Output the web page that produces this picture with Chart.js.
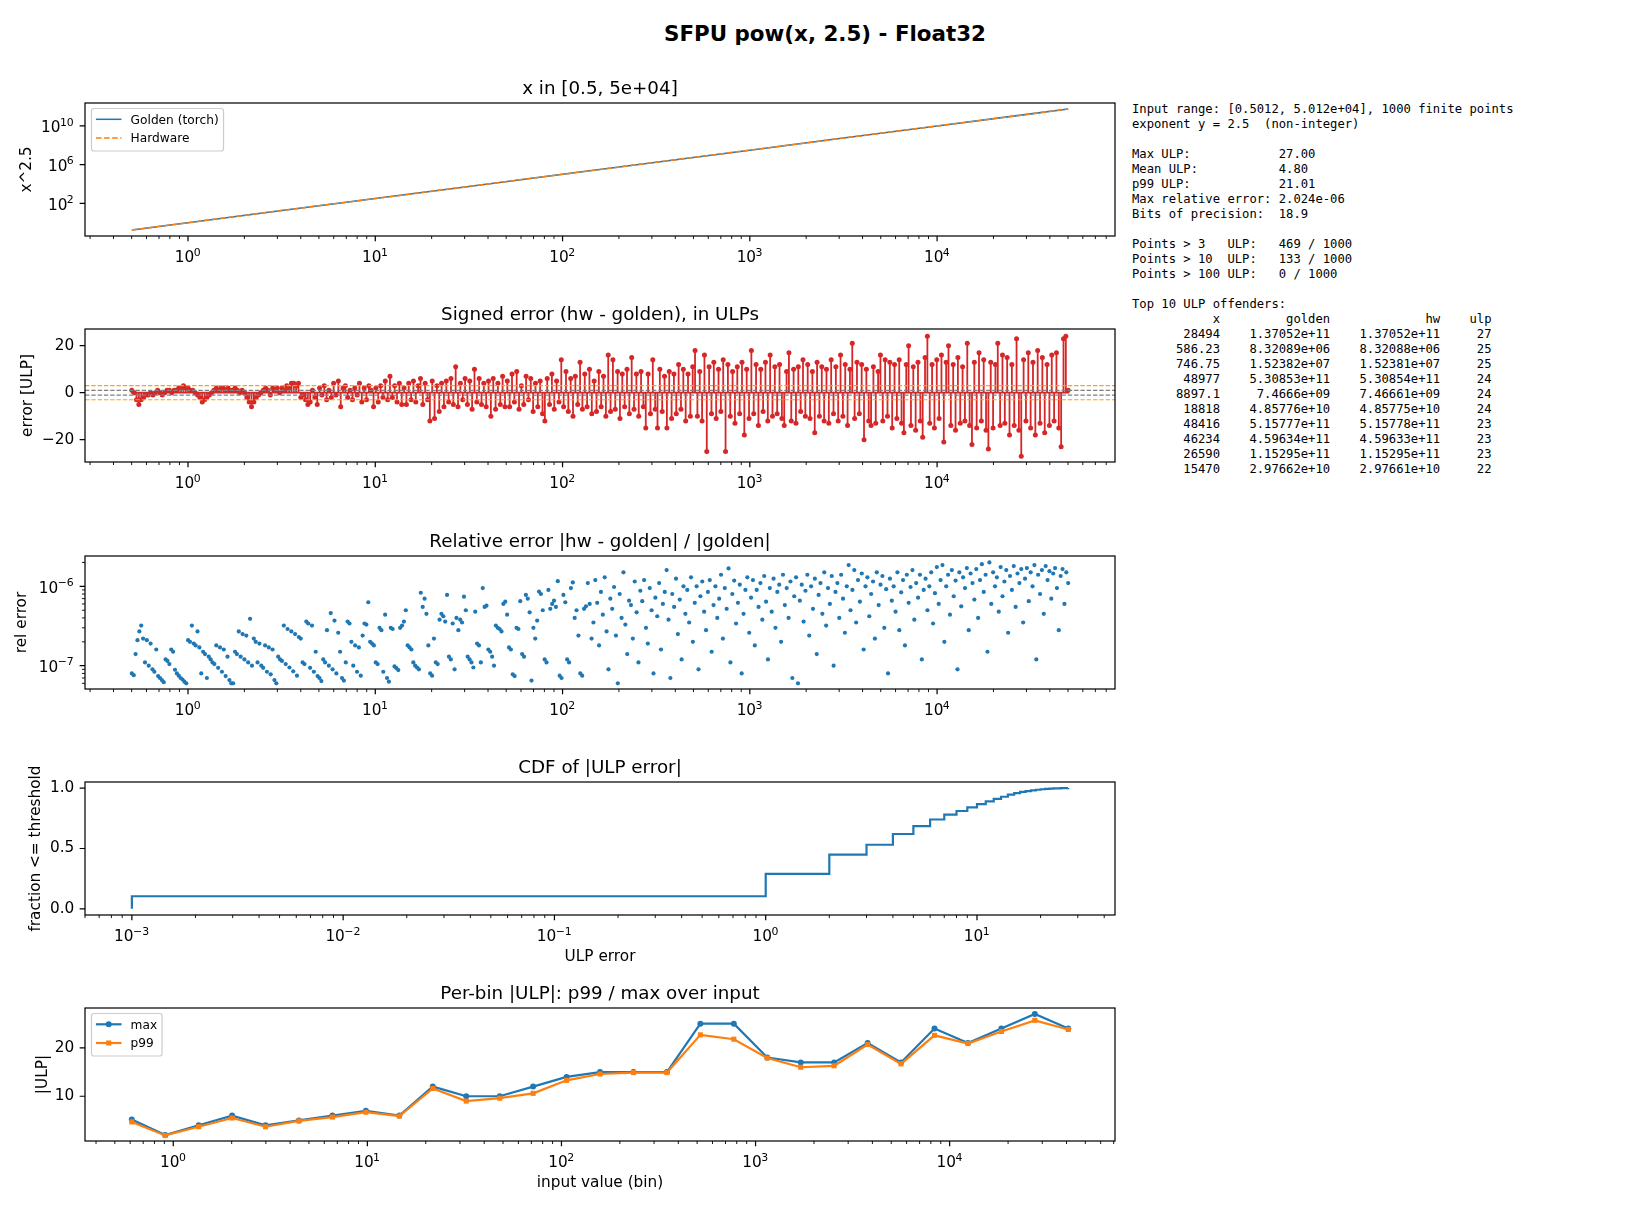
<!DOCTYPE html>
<html>
<head>
<meta charset="utf-8">
<title>SFPU pow(x, 2.5) - Float32</title>
<script src="https://cdn.jsdelivr.net/npm/chart.js"></script>
<style>
  body { margin: 0; background: #fff; width: 1650px; height: 1210px; position: relative; overflow: hidden; }
  canvas { position: absolute; left: 0; }
  #suptitle { position: absolute; left: 0; width: 1650px; top: 22.7px; text-align: center; font: bold 21.4px/1 'DejaVu Sans', sans-serif; color: #000; }
  #stats { position: absolute; left: 1132px; top: 101.75px; margin: 0; font: 12.2px/15px 'DejaVu Sans Mono', monospace; color: #000; white-space: pre; }
</style>
</head>
<body>
<div id="suptitle">SFPU pow(x, 2.5) - Float32</div>
<pre id="stats">Input range: [0.5012, 5.012e+04], 1000 finite points
exponent y = 2.5  (non-integer)

Max ULP:            27.00
Mean ULP:           4.80
p99 ULP:            21.01
Max relative error: 2.024e-06
Bits of precision:  18.9

Points > 3   ULP:   469 / 1000
Points > 10  ULP:   133 / 1000
Points > 100 ULP:   0 / 1000

Top 10 ULP offenders:
           x         golden             hw    ulp
       28494    1.37052e+11    1.37052e+11     27
      586.23    8.32089e+06    8.32088e+06     25
      746.75    1.52382e+07    1.52381e+07     25
       48977    5.30853e+11    5.30854e+11     24
      8897.1     7.4666e+09    7.46661e+09     24
       18818    4.85776e+10    4.85775e+10     24
       48416    5.15777e+11    5.15778e+11     23
       46234    4.59634e+11    4.59633e+11     23
       26590    1.15295e+11    1.15295e+11     23
       15470    2.97662e+10    2.97661e+10     22</pre>
<canvas id="c1" width="1130" height="240" style="top:58px"></canvas>
<canvas id="c2" width="1130" height="240" style="top:284px"></canvas>
<canvas id="c3" width="1130" height="240" style="top:511px"></canvas>
<canvas id="c4" width="1130" height="240" style="top:737px"></canvas>
<canvas id="c5" width="1130" height="240" style="top:963px"></canvas>
<script>
// input sweep, from the stats box
const X_LO = 0.5012, X_HI = 50120;

// panel 1: x^2.5 (golden and hardware overlap at this scale)
const powX      = [0.5012, 1, 3.162, 10, 31.62, 100, 316.2, 1000, 3162, 10000, 31620, 50120];
const powGolden = [0.1778, 1, 17.78, 316.2, 5623, 1e5, 1.778e6, 3.162e7, 5.623e8, 1e10, 1.778e11, 5.624e11];
const powHw     = [0.1778, 1, 17.78, 316.2, 5623, 1e5, 1.778e6, 3.162e7, 5.623e8, 1e10, 1.778e11, 5.624e11];

// panel 2: signed error (hw - golden) in ULPs, 400 samples over the sweep
const signedErr = [
  1,0,-3,-5,-3,-2,-1,-1,0,-1,0,1,0,-1,0,1,1,0,1,1,2,2,3,2,2,1,1,0,-1,-2,-4,-3,-2,-1,
  0,1,2,1,2,2,1,2,1,1,2,1,0,1,0,-2,-4,-6,-4,-2,-1,0,1,2,1,-1,2,1,2,0,2,1,3,2,4,4,
  3,4,-2,-1,-3,-5,-4,1,-2,-5,
  2,-1,3,-3,1,-2,4,-1, 5,-6,2,3,-2,1,-3,2, -1,4,-4,2,-3,3,1,-6, 2,-4,3,-2,5,-3,7,-2,
  3,-4,4,-5,2,-5,4,-3, 5,-4,3,6,-5,4,-3,-12, 5,-11,3,-8,4,-6,5,-4, 6,-5,11,-6,4,-3,6,-5,
  5,-7,10,-4,6,-5,4,-6, 5,-10,6,-7,4,-5,7,-6,
  5,-6,8,-4,9,-7,3,-5, 7,-3,6,-8,4,-6,5,-9, -12,6,-5,8,-7,5,-4,14, -6,9,-8,6,-10,7,-5,13,
  -7,8,-6,10,-9,5,-8,9, -6,7,-10,16,-8,14,-7,9, -11,8,-6,10,-9,15,-7,8, -10,9,-6,-15,8,-9,14,-7,
  -15,10,-8,7,-15,9,-11,8, -9,12,-7,10,-12,8,-10,11,
  18,-10,9,-12,16,-25,11,-9, 13,-11,10,-8,14,-25,12,-10, 9,-13,11,-9,13,-18,10,-11,
  18,-9,12,-14,10,-8,13,-12, 16,-10,11,-9,12,-11,-14,9, 17,-12,10,-13,11,-8,14,-10,
  12,-11,9,-17,13,-10,11,-12, 10,-13,14,-9,11,-12,16,-10, 12,-14,10,21,-11,13,-9,12,
  -20,10,-12,-14,11,-13,9,16,
  -12,14,-10,13,-15,12,-11,14, -13,-17,12,20,-14,11,-16,13, -12,-19,15,24,-13,12,-15,14,
  -11,16,-21,13,20,-14,12,-16, 15,-13,11,-12,21,-14,-22,13, -15,17,-12,14,-16,-24,13,-15,
  12,21,-14,16,-13,15,-18,12, -14,23,-16,-27,14,-12,17,-15, 13,-18,18,-13,15,-17,12,-14,
  16,-12,17,-15,-23,23,24,1
];

// panel 3: relative error, 500 samples over the sweep, in units of 1e-8
const relErrE8 = [
  8,7.6,14,21,27,32,
  22,11,21,10,19,9,8.4,16,7.4,7,6.6,6.2,
  12,11.5,10.5,16,15,8.9,8,7.5,7,6.7,6.3,6,
  21,20,32,19,18,27,17,8,15,14,7,13,
  12,11,10.5,18,9.4,17,8.4,16,7.4,13,6.6,6,
  6,15,14,27,13,25,12,24,11,39,10,22,
  20,11,19,10,9.4,18,8.4,17,7.8,16,6.6,6,
  13,12,11.5,32,10.5,29,9.5,27,8.5,25,7.5,23,
  22,11,10.5,36,34,9.4,32,8.4,15,7.4,7,6.4,
  12,11,28,10,46,9,37,8,26,15,7,6.5,
  11,36,34,20,10,18,8.4,17,7.5,24,34,33,
  63,20,19,18,11,10.5,30,28,8.4,44,7,6.3,
  30,29,9.8,9.3,8.8,30,32,36,50,18,17,16,
  11,10,9.5,9,83,55,70,45,18,8,7.5,22,
  11,10.5,38,45,42,36,78,13,12,34,9,40,
  28,38,35,74,50,13,12,11,9.5,48,19,18,
  11,95,55,57,16,15,13,10,32,30,29,27,
  60,64,44,17,16,7.8,7.4,30,29,65,14,13,
  78,70,47,6.5,30,22,37,86,80,50,12,11,
  90,52,60,66,55,116,7.5,7,78,63,12,11,
  95,112,40,50,24,8,7.5,52,56,110,60,22,
  35,120,62,18,85,44,130,27,9,70, 52,98,24,6,80,40,150,33,14,66,
  58,22,115,47,11,88,65,120,30,19, 95,50,8,72,42,110,16,60,85,160,
  38,7,80,55,125,25,68,12,100,45, 90,35,130,20,62,100,9,75,115,48,
  28,85,120,15,58,100,40,70,140,22, 95,52,168,11,80,118,34,62,105,8,
  45,90,130,26,72,120,18,90,55,110, 38,135,64,12,95,48,125,30,85,105,
  20,140,58,95,40,115,7,75,130,6, 66,105,36,88,140,24,100,52,125,14,
  78,110,45,150,32,95,60,135,10,85, 110,40,140,70,26,100,185,50,90,160,
  35,120,64,145,16,100,130,42,80,115, 22,150,58,105,135,30,92,8,125,66,
  100,48,150,28,84,120,18,140,62,98, 160,38,110,72,140,12,90,125,50,100,
  150,34,82,175,60,120,185,20,100,140, 44,160,75,118,9,150,56,130,95,170,
  28,145,110,68,165,40,120,190,85,140, 15,200,60,150,100,130,48,175,75,115,
  160,26,135,90,180,55,145,110,165,35, 125,170,65,150,100,185,12,140,80,160,
  45,180,120,155,70,145,170,95,28,135, 165,60,150,110
];

// panel 4: CDF of |ULP error| (zero errors shown at 1e-3)
const cdfThresh = [0.001, 0.001, 1, 2, 3, 4, 5, 6, 7, 8, 9, 10, 11, 12, 13, 14, 15, 16, 17, 18, 19, 20, 21, 22, 23, 24, 25, 27];
const cdfFrac   = [0.001, 0.105, 0.29, 0.45, 0.531, 0.62, 0.685, 0.74, 0.78, 0.81, 0.84, 0.867, 0.89, 0.91, 0.928, 0.945,
                   0.958, 0.968, 0.975, 0.981, 0.986, 0.99, 0.993, 0.995, 0.997, 0.998, 0.999, 1.0];

// panel 5: per-bin max / p99 of |ULP|
const binCenters = [0.6113, 0.909, 1.352, 2.01, 2.989, 4.445, 6.609, 9.829, 14.62, 21.73, 32.32, 48.06, 71.46, 106.3,
                    158, 235, 349.4, 519.6, 772.7, 1149, 1709, 2541, 3778, 5618, 8354, 12423, 18473, 27470, 40848];
const binMax = [5.2, 2, 4, 6, 4, 5, 6, 7, 6, 12, 10, 10, 12, 14, 15, 15, 15, 25, 25, 18, 17, 17, 21, 17, 24, 21, 24, 27, 24];
const binP99 = [4.7, 1.9, 3.7, 5.5, 3.7, 4.9, 5.7, 6.7, 5.9, 11.6, 9.0, 9.6, 10.6, 13.3, 14.6, 14.9, 14.9, 22.7, 21.8,
                17.9, 16.0, 16.3, 20.7, 16.7, 22.6, 20.9, 23.4, 25.7, 23.8];

// ticks (log axes: value + exponent shown as 10^exp)
const decTicks = [1, 10, 100, 1000, 10000];
const decExps  = ['0', '1', '2', '3', '4'];
const cdfTicks = [0.001, 0.01, 0.1, 1, 10];
const cdfExps  = ['−3', '−2', '−1', '0', '1'];
const powTicks = [1e2, 1e6, 1e10];
const powExps  = ['2', '6', '10'];
const relTicks = [1e-7, 1e-6];
const relExps  = ['−7', '−6'];

const C0 = '#1f77b4', C1 = '#ff7f0e', C3 = '#d62728';
const SWEEP_AXIS = [0.2818, 89125];
const FONT = "'DejaVu Sans'";

Chart.defaults.font.family = FONT + ", sans-serif";
Chart.defaults.color = '#000';

const pairs = (xs, ys) => xs.map((x, i) => ({x, y: ys[i]}));
const sweepX = n => Array.from({length: n}, (_, i) => X_LO * Math.pow(X_HI / X_LO, i / (n - 1)));

function minorLog(lo, hi) {
  const out = [];
  for (let e = Math.floor(Math.log10(lo)); e <= Math.ceil(Math.log10(hi)); e++) {
    for (let d = 2; d <= 9; d++) {
      const v = d * Math.pow(10, e);
      if (v >= lo && v <= hi) out.push(v);
    }
  }
  return out;
}

// "10" with a raised exponent, like matplotlib's mathtext tick labels
function powLabel(ctx, x, y, exp, centered) {
  ctx.font = '15.3px ' + FONT;
  const wb = ctx.measureText('10').width;
  ctx.font = '10.9px ' + FONT;
  const ws = ctx.measureText(exp).width;
  const x0 = centered ? x - (wb + ws) / 2 : x - (wb + ws);
  ctx.font = '15.3px ' + FONT;
  ctx.fillText('10', x0, y);
  ctx.font = '10.9px ' + FONT;
  ctx.fillText(exp, x0 + wb - 0.5, y - 6.7);
}

function drawLegend(ctx, a, items) {
  ctx.font = '12.2px ' + FONT;
  const textW = Math.max(...items.map(it => ctx.measureText(it.label).width));
  const x0 = a.left + 6.5, y0 = a.top + 5.5, w = 39.1 + textW + 4.9, h = 42.5;
  ctx.beginPath();
  ctx.roundRect(x0, y0, w, h, 2.5);
  ctx.fillStyle = 'rgba(255,255,255,0.8)';
  ctx.fill();
  ctx.strokeStyle = '#cccccc';
  ctx.lineWidth = 1.2;
  ctx.stroke();
  items.forEach((it, k) => {
    const cy = y0 + 10.8 + k * 18.7;
    ctx.beginPath();
    ctx.setLineDash(it.dash || []);
    ctx.strokeStyle = it.color;
    ctx.lineWidth = it.width;
    ctx.moveTo(x0 + 4.4, cy);
    ctx.lineTo(x0 + 30, cy);
    ctx.stroke();
    ctx.setLineDash([]);
    ctx.fillStyle = it.color;
    if (it.marker === 'circle') {
      ctx.beginPath(); ctx.arc(x0 + 17.2, cy, 3, 0, 2 * Math.PI); ctx.fill();
    } else if (it.marker === 'rect') {
      ctx.fillRect(x0 + 17.2 - 2.55, cy - 2.55, 5.1, 5.1);
    }
    ctx.fillStyle = '#000';
    ctx.fillText(it.label, x0 + 39.1, cy + 4.45);
  });
}

// matplotlib-like frame, tick marks, power-of-ten labels and legend
const mplAxes = {
  id: 'mplAxes',
  afterDatasetsDraw(chart, args, opts) {
    const {ctx, chartArea: a, scales} = chart;
    ctx.save();
    ctx.strokeStyle = '#000';
    const mark = (scale, vals, len, w) => {
      ctx.lineWidth = w;
      ctx.beginPath();
      for (const v of vals) {
        const p = scale.getPixelForValue(v);
        if (scale.isHorizontal()) {
          if (p < a.left - 0.5 || p > a.right + 0.5) continue;
          ctx.moveTo(p, a.bottom); ctx.lineTo(p, a.bottom + len);
        } else {
          if (p < a.top - 0.5 || p > a.bottom + 0.5) continue;
          ctx.moveTo(a.left, p); ctx.lineTo(a.left - len, p);
        }
      }
      ctx.stroke();
    };
    mark(scales.x, opts.xMajor, 5.35, 1.22);
    mark(scales.x, opts.xMinor || [], 3.06, 0.92);
    mark(scales.y, opts.yMajor, 5.35, 1.22);
    mark(scales.y, opts.yMinor || [], 3.06, 0.92);
    ctx.lineWidth = 1.22;
    ctx.strokeRect(a.left, a.top, a.right - a.left, a.bottom - a.top);

    ctx.fillStyle = '#000';
    ctx.textAlign = 'left';
    ctx.textBaseline = 'alphabetic';
    if (opts.xExps) opts.xMajor.forEach((v, i) =>
      powLabel(ctx, scales.x.getPixelForValue(v), a.bottom + 26.4, opts.xExps[i], true));
    if (opts.yExps) opts.yMajor.forEach((v, i) =>
      powLabel(ctx, a.left - 10.7, scales.y.getPixelForValue(v) + 6.3, opts.yExps[i], false));

    if (opts.legend) drawLegend(ctx, a, opts.legend);
    ctx.restore();
  }
};

function axis(isX, type, range, ticks, labels, title, titlePad) {
  return {
    type, min: range[0], max: range[1], bounds: 'data',
    grid: {display: false, drawTicks: false},
    border: {display: false},
    ticks: {
      display: !!labels,
      color: '#000', font: {size: 15.3}, padding: isX ? 11 : 10.7,
      autoSkip: false, maxRotation: 0, minRotation: 0,
      callback: (v, i) => labels ? labels[i] : ''
    },
    afterBuildTicks: s => { s.ticks = ticks.map(v => ({value: v})); },
    afterFit: s => { if (isX) s.height = 62; else s.width = 85; },
    title: title ? {
      display: true, text: title, color: '#000', font: {size: 15.3},
      padding: isX ? {top: 0, bottom: titlePad} : {top: titlePad, bottom: 0}
    } : {display: false}
  };
}

function panel(id, title, datasets, x, y, marks) {
  return new Chart(document.getElementById(id), {
    type: 'line',
    data: {datasets},
    options: {
      responsive: false, animation: false, devicePixelRatio: 1, events: [],
      layout: {padding: {left: 0, right: 15, top: 0, bottom: 0}},
      plugins: {
        legend: {display: false},
        tooltip: {enabled: false},
        title: {display: true, text: title, fullSize: false, color: '#000',
                font: {size: 18.3, weight: 'normal'}, padding: {top: 20.4, bottom: 2.64}},
        mplAxes: marks
      },
      scales: {x, y}
    },
    plugins: [mplAxes]
  });
}

const sweepMinor = minorLog(SWEEP_AXIS[0], SWEEP_AXIS[1]);

// 1: x^2.5
panel('c1', 'x in [0.5, 5e+04]', [
  {data: pairs(powX, powGolden), borderColor: C0, borderWidth: 1.53, pointRadius: 0, order: 2},
  {data: pairs(powX, powHw), borderColor: C1, borderWidth: 1.53, borderDash: [5.66, 2.45], pointRadius: 0, order: 1}
],
  axis(true, 'logarithmic', SWEEP_AXIS, decTicks),
  axis(false, 'logarithmic', [0.04217, 2.371e12], powTicks, null, 'x^2.5', 17.8),
  {xMajor: decTicks, xMinor: sweepMinor, xExps: decExps, yMajor: powTicks, yExps: powExps,
   legend: [{label: 'Golden (torch)', color: C0, width: 1.53},
            {label: 'Hardware', color: C1, width: 1.53, dash: [5.66, 2.45]}]});

// 2: signed error stems
const xs2 = sweepX(signedErr.length);
const stemPts = [];
signedErr.forEach((v, i) => { stemPts.push({x: xs2[i], y: 0}, {x: xs2[i], y: v}, {x: xs2[i], y: 0}); });
const hline = (yv, color) => ({
  data: [{x: SWEEP_AXIS[0], y: yv}, {x: SWEEP_AXIS[1], y: yv}],
  borderColor: color, borderWidth: 1.2, borderDash: [4.4, 1.9], pointRadius: 0, order: 0
});
panel('c2', 'Signed error (hw - golden), in ULPs', [
  hline(3, '#ffa500'), hline(-3, '#ffa500'), hline(1, '#808080'), hline(-1, '#808080'),
  {data: pairs(xs2, signedErr), showLine: false, pointRadius: 2.5, pointBackgroundColor: C3, pointBorderWidth: 0, order: 1},
  {data: stemPts, borderColor: C3, borderWidth: 1.8, pointRadius: 0, order: 2}
],
  axis(true, 'logarithmic', SWEEP_AXIS, decTicks),
  axis(false, 'linear', [-29.5, 27.1], [-20, 0, 20], ['−20', '0', '20'], 'error [ULP]', 18.8),
  {xMajor: decTicks, xMinor: sweepMinor, xExps: decExps, yMajor: [-20, 0, 20]});

// 3: relative error scatter
const xs3 = sweepX(relErrE8.length);
const REL_AXIS = [5.09e-8, 2.41e-6];
panel('c3', 'Relative error |hw - golden| / |golden|', [
  {data: relErrE8.map((v, i) => ({x: xs3[i], y: v * 1e-8})), showLine: false,
   pointRadius: 2.1, pointBackgroundColor: C0, pointBorderWidth: 0}
],
  axis(true, 'logarithmic', SWEEP_AXIS, decTicks),
  axis(false, 'logarithmic', REL_AXIS, relTicks, null, 'rel error', 12.6),
  {xMajor: decTicks, xMinor: sweepMinor, xExps: decExps,
   yMajor: relTicks, yMinor: minorLog(REL_AXIS[0], REL_AXIS[1]), yExps: relExps});

// 4: CDF
const CDF_AXIS = [6.0e-4, 45];
panel('c4', 'CDF of |ULP error|', [
  {data: pairs(cdfThresh, cdfFrac), borderColor: C0, borderWidth: 2.2, pointRadius: 0, stepped: 'before'}
],
  axis(true, 'logarithmic', CDF_AXIS, cdfTicks, null, 'ULP error', 10.8),
  axis(false, 'linear', [-0.05, 1.05], [0, 0.5, 1], ['0.0', '0.5', '1.0'], 'fraction <= threshold', 27.3),
  {xMajor: cdfTicks, xMinor: minorLog(CDF_AXIS[0], CDF_AXIS[1]), xExps: cdfExps, yMajor: [0, 0.5, 1]});

// 5: per-bin max / p99
const BIN_AXIS = [0.351, 71100];
panel('c5', 'Per-bin |ULP|: p99 / max over input', [
  {data: pairs(binCenters, binMax), borderColor: C0, borderWidth: 2.2, pointRadius: 3,
   pointStyle: 'circle', pointBackgroundColor: C0, pointBorderWidth: 0, order: 2},
  {data: pairs(binCenters, binP99), borderColor: C1, borderWidth: 2.2, pointRadius: 3.6,
   pointStyle: 'rect', pointBackgroundColor: C1, pointBorderWidth: 0, order: 1}
],
  axis(true, 'logarithmic', BIN_AXIS, decTicks, null, 'input value (bin)', 10.8),
  axis(false, 'linear', [0.75, 28.25], [10, 20], ['10', '20'], '|ULP|', 33.4),
  {xMajor: decTicks, xMinor: minorLog(BIN_AXIS[0], BIN_AXIS[1]), xExps: decExps, yMajor: [10, 20],
   legend: [{label: 'max', color: C0, width: 2.2, marker: 'circle'},
            {label: 'p99', color: C1, width: 2.2, marker: 'rect'}]});
</script>
</body>
</html>
